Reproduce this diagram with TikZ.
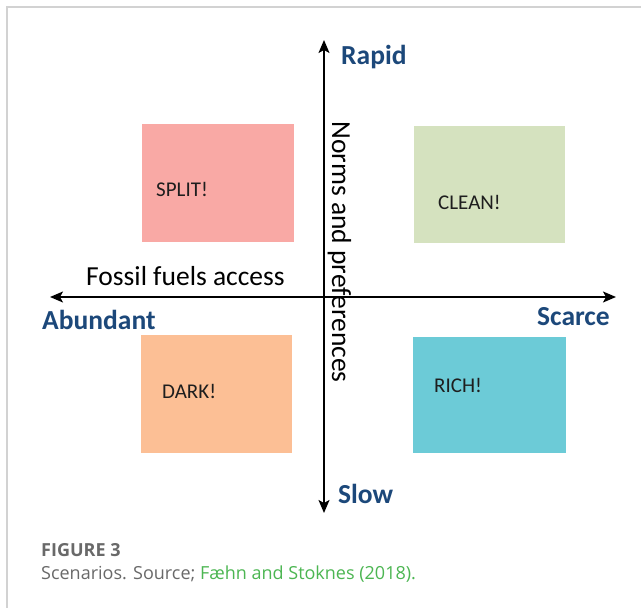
\documentclass[tikz,border=0pt]{standalone}
\usepackage{fontspec}
\setmainfont{Carlito}
\newfontfamily\capfont{Open Sans}
\usetikzlibrary{arrows.meta}

\definecolor{axisblue}{RGB}{28,72,122}
\definecolor{splitfill}{RGB}{249,169,165}
\definecolor{cleanfill}{RGB}{213,226,191}
\definecolor{darkfill}{RGB}{252,191,149}
\definecolor{richfill}{RGB}{108,203,215}
\definecolor{framegray}{RGB}{210,210,210}
\definecolor{capgray}{RGB}{105,105,105}
\definecolor{capgreen}{RGB}{76,182,82}
\definecolor{labelink}{RGB}{30,30,30}

\begin{document}
\begin{tikzpicture}[x=1pt,y=-1pt,
  axis/.style={line width=1.6pt,black,{Stealth[length=13pt,width=11pt,inset=3pt]}-{Stealth[length=13pt,width=11pt,inset=3pt]}},
  pole/.style={font=\fontsize{27.5}{30}\selectfont\bfseries,text=axisblue,inner sep=0pt},
  scenlabel/.style={font=\fontsize{21}{24}\selectfont,text=labelink,inner sep=0pt,anchor=west},
  axistitle/.style={font=\fontsize{27.5}{30}\selectfont,text=black,inner sep=0pt},
  caption/.style={anchor=west,inner sep=0pt,text=capgray}]

  \useasboundingbox (0,0) rectangle (641,608);
  \fill[white] (0,0) rectangle (641,608);

  % open frame around the figure
  \draw[framegray,line width=1.3pt] (7,608) -- (7,7) -- (641,7);

  % scenario quadrants
  \fill[splitfill] (142,124) rectangle (294,242);
  \fill[cleanfill] (414,126) rectangle (565,243);
  \fill[darkfill]  (141,335) rectangle (292,453);
  \fill[richfill]  (413,337) rectangle (566,453);
  \node[scenlabel] (split) at (156,189) {SPLIT!};
  \node[scenlabel] (clean) at (438,202) {CLEAN!};
  \node[scenlabel] (dark)  at (162,391) {DARK!};
  \node[scenlabel] (rich)  at (434,385) {RICH!};

  % axes
  \coordinate (top) at (324,40);
  \coordinate (bottom) at (324,513);
  \coordinate (left) at (50,297);
  \coordinate (right) at (616,297);
  \draw[axis] (bottom) -- (top);
  \draw[axis] (left) -- (right);

  % axis titles
  \node[axistitle,anchor=west] (fossil) at (86,276) {Fossil fuels access};
  \node[axistitle,rotate=-90,anchor=base] (norms) at (332,252) {Norms and preferences};

  % pole labels
  \node[pole,anchor=west] (rapid) at (341,57) {Rapid};
  \node[pole,anchor=west] (slow) at (338,494) {Slow};
  \node[pole,anchor=west] (abundant) at (42,320) {Abundant};
  \node[pole,anchor=east] (scarce) at (610,317) {Scarce};

  % caption
  \node[caption,font=\capfont\fontsize{18}{21}\selectfont\bfseries] (fig) at (41,550) {FIGURE 3};
  \node[caption,font=\capfont\fontsize{18}{21}\selectfont] (cap) at (41,574)
    {Scenarios. Source; \textcolor{capgreen}{Fæhn and Stoknes (2018).}};
\end{tikzpicture}
\end{document}
